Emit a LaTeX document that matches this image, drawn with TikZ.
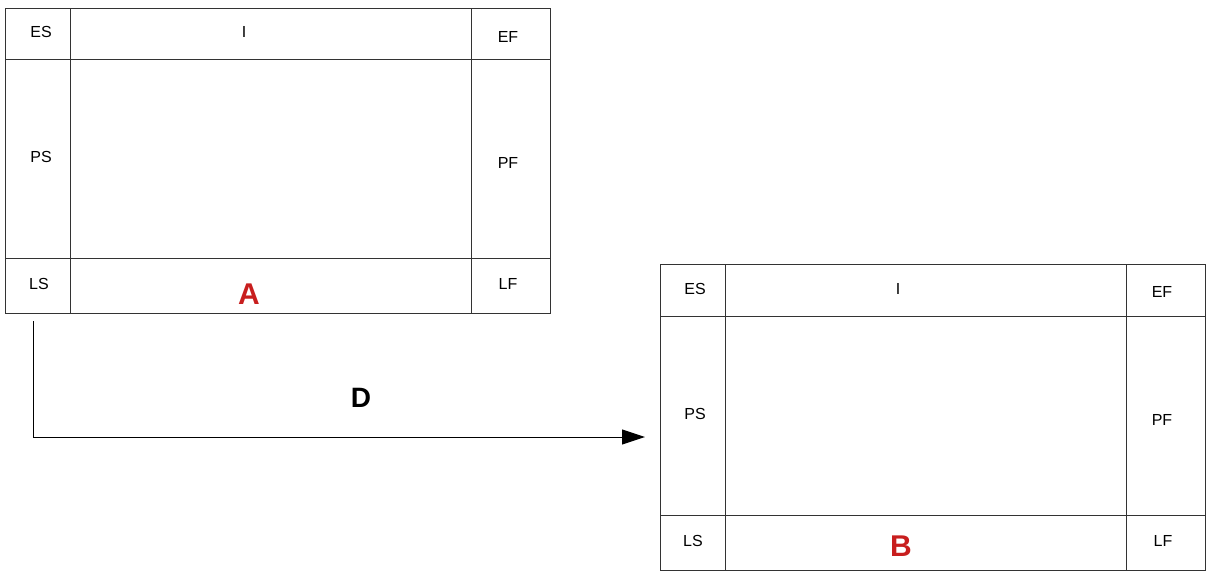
\documentclass[tikz,border=0pt]{standalone}
\usepackage{fontspec}
\setmainfont{Liberation Sans}
\usetikzlibrary{arrows.meta}
\usetikzlibrary{positioning}

\definecolor{labelred}{RGB}{200,30,30}

\tikzset{
    cell/.style={draw=black!80, line width=1pt},
    field/.style={font=\fontsize{16}{18}\selectfont, inner sep=0pt},
    tag/.style={font=\fontsize{30}{32}\selectfont\bfseries, text=labelred, inner sep=0pt},
    delay/.style={font=\fontsize{28}{30}\selectfont\bfseries, inner sep=0pt},
}

\begin{document}
\begin{tikzpicture}[x=1pt, y=-1pt]
\useasboundingbox (0,0) rectangle (1210,584);

                % activity A
                \draw[cell] (5,8) rectangle (550,313);
                \draw[cell] (70,8) -- (70,313);
                \draw[cell] (471,8) -- (471,313);
                \draw[cell] (5,59) -- (550,59);
                \draw[cell] (5,258) -- (550,258);
                \node[field] (es_a) at (41,32)  {ES};
                \node[field] (i_a)  at (244,32) {I};
                \node[field] (ef_a) at (508,37) {EF};
                \node[field] (ps_a) at (41,157) {PS};
                \node[field] (pf_a) at (508,163) {PF};
                \node[field] (ls_a) at (39,284) {LS};
                \node[field] (lf_a) at (508,284) {LF};
                \node[tag]   (n_a)  at (249,294) {A};

                % activity B
                \draw[cell] (660,264) rectangle (1205,570);
                \draw[cell] (725,264) -- (725,570);
                \draw[cell] (1126,264) -- (1126,570);
                \draw[cell] (660,316) -- (1205,316);
                \draw[cell] (660,515) -- (1205,515);
                \node[field] (es_b) at (695,289)  {ES};
                \node[field] (i_b)  at (898,289)  {I};
                \node[field] (ef_b) at (1162,292) {EF};
                \node[field] (ps_b) at (695,414)  {PS};
                \node[field] (pf_b) at (1162,420) {PF};
                \node[field] (ls_b) at (693,541)  {LS};
                \node[field] (lf_b) at (1163,541) {LF};
                \node[tag]   (n_b)  at (901,546)  {B};

                % delay link
                \coordinate (d_start) at (33,321);
                \coordinate (d_end)   at (645,437);
                \node[delay] (d_0) at (361,398) {D};
                \draw[black, line width=1pt, -{Triangle[length=23pt, width=15pt]}]
                    (d_start) |- (d_end);

\end{tikzpicture}
\end{document}
